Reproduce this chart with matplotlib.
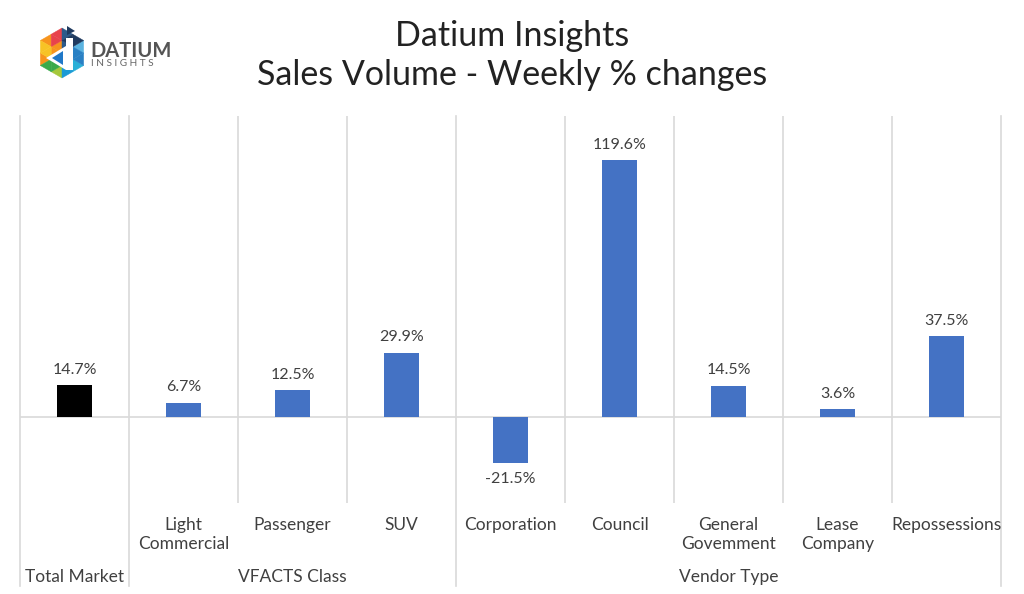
import numpy as np
import matplotlib
matplotlib.use("Agg")
import matplotlib.pyplot as plt
from matplotlib.patches import Polygon

# data
categories = ["Total Market", "Light\nCommercial", "Passenger", "SUV", "Corporation",
              "Council", "General\nGovemment", "Lease\nCompany", "Repossessions"]
values = [14.7, 6.7, 12.5, 29.9, -21.5, 119.6, 14.5, 3.6, 37.5]
groups = ["Total Market", "VFACTS Class", "Vendor Type"]
group_span = [(0, 1), (1, 4), (4, 9)]   # category index ranges

FONT = ["Lato", "DejaVu Sans"]
TXT = "#404040"
GRID = "#d9d9d9"
BLUE = "#4472c4"

W, H = 1024, 594
fig = plt.figure(figsize=(W / 100, H / 100), dpi=100)
fig.patch.set_facecolor("white")

# main axes in pixel placement
x0, x1, ytop, ybot = 20, 1001, 116, 503
ax = fig.add_axes([x0 / W, 1 - ybot / H, (x1 - x0) / W, (ybot - ytop) / H])
n = len(categories)
xs = np.arange(n)
cols = ["black"] + [BLUE] * (n - 1)
ax.bar(xs, values, width=0.32, color=cols, zorder=3)
ax.set_xlim(-0.5, n - 0.5)
ax.set_ylim(-40, 140)
ax.axhline(0, color=GRID, lw=1.2, zorder=2)
for s in ax.spines.values():
    s.set_visible(False)
ax.set_xticks([]); ax.set_yticks([])

bounds = [g[0] for g in group_span] + [n]
for b in range(n + 1):
    if b in bounds:
        ax.plot([b - 0.5, b - 0.5], [1.0, -0.215], transform=ax.get_xaxis_transform(),
                color=GRID, lw=1.2, clip_on=False, zorder=1)
    else:
        ax.axvline(b - 0.5, color=GRID, lw=1.2, zorder=1)

for x, v in zip(xs, values):
    off = 6 if v >= 0 else -6
    ax.annotate(f"{v:.1f}%", (x, v), xytext=(0, off), textcoords="offset points",
                ha="center", va="bottom" if v >= 0 else "top",
                fontsize=11.5, color=TXT, family=FONT)

for x, c in zip(xs, categories):
    if c == "Total Market":
        continue
    ax.text(x, -0.035, c, transform=ax.get_xaxis_transform(), ha="center", va="top",
            fontsize=12.5, color=TXT, family=FONT, linespacing=1.3)
for g, (a, b) in zip(groups, group_span):
    ax.text((a + b - 1) / 2, -0.19, g, transform=ax.get_xaxis_transform(), ha="center",
            va="center", fontsize=12.5, color=TXT, family=FONT)

# titles
fig.text(0.5, 1 - 36 / H, "Datium Insights", ha="center", va="center",
         fontsize=24.5, color="#222222", family=FONT)
fig.text(0.5, 1 - 75 / H, "Sales Volume - Weekly % changes", ha="center", va="center",
         fontsize=24.5, color="#222222", family=FONT)

# logo
lg = fig.add_axes([0, 0, 1, 1], zorder=5)
lg.set_xlim(0, W); lg.set_ylim(H, 0); lg.axis("off")
cx, cy, R = 62, 53, 25
ang = np.deg2rad([90, 150, 210, 270, 330, 30])
vert = [(cx + R * np.cos(a), cy - R * np.sin(a)) for a in ang]
sector_cols = [("#e8434b", "#f7941d"), ("#f7c325", "#f7941d"), ("#3aaa4a", "#a6c83c"),
               ("#1a9ad6", "#2bb0d8"), ("#2980c4", "#5bb3e0"), ("#1f3a5f", "#2c5a8a")]
c = np.array([cx, cy])
for i in range(6):
    p = np.array(vert[i]); q = np.array(vert[(i + 1) % 6])
    m1, m2, m3 = (c + p) / 2, (p + q) / 2, (c + q) / 2
    ca, cb = sector_cols[i]
    for tri, col in [((c, m1, m3), cb), ((m1, p, m2), ca), ((m3, m2, q), cb), ((m1, m2, m3), ca)]:
        lg.add_patch(Polygon(tri, closed=True, fc=col, ec=col, lw=0.3))
# white "d" shape
lg.add_patch(Polygon([(66, 38), (73, 38), (73, 70), (66, 70)], fc="white", ec="none"))
lg.add_patch(Polygon([(46, 58), (66, 46), (66, 70)], fc="white", ec="none"))
lg.add_patch(Polygon([(52, 58), (63, 51), (63, 65)], fc="#1f78c8", ec="none"))
lg.add_patch(Polygon([(67, 26), (75, 31), (67, 35)], fc="#1f3a5f", ec="none"))
lg.text(90, 51, "DATIUM", ha="left", va="center", fontsize=14.5, fontweight="bold",
        color="#555555", family=FONT)
lg.text(91, 64, "I N S I G H T S", ha="left", va="center", fontsize=7.2,
        color="#666666", family=FONT)

fig.savefig("out.png", dpi=100)
